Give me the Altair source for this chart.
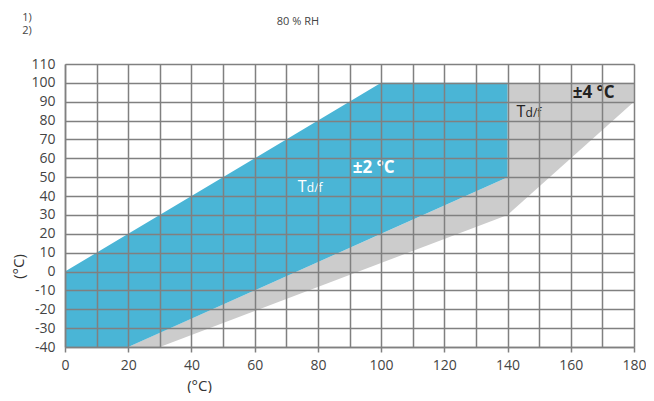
import altair as alt
import pandas as pd

FONT = "Open Sans"

# Region vertices (x = temperature, lo/hi = bounds)
blue_x = [0, 20, 100, 140]
blue_lo = [-40, -40, 20, 50]
blue_hi = [0, 20, 100, 100]

gray_x = [20, 30, 140, 140, 180]
gray_lo = [-40, -40, 30, 30, 90]
gray_hi = [-40, -32.5, 50, 100, 100]
gray_seg = ["a", "a", "a", "b", "b"]

x_ticks = list(range(0, 181, 10))
y_ticks = list(range(-40, 111, 10))

# Annotations (data coordinates)
big_text = ["±2 °C", "±4 °C"]
big_x = [91.0, 160.6]
big_y = [52.2, 92.0]
big_color = ["white", "#222222"]

t_x = [73.6, 142.8]
t_y = [42.2, 81.9]
sub_x = [76.5, 145.7]
sub_color = ["white", "#222222"]

note_text = ["1)", "2)", "80 % RH"]
note_x = [-13.5, -13.5, 67.0]
note_y = [137.8, 130.6, 135.4]

blue_df = pd.DataFrame({"x": blue_x, "lo": blue_lo, "hi": blue_hi})
gray_df = pd.DataFrame({"x": gray_x, "lo": gray_lo, "hi": gray_hi, "seg": gray_seg})

xs = alt.Scale(domain=[0, 180], nice=False, zero=False)
ys = alt.Scale(domain=[-40, 110], nice=False, zero=False)

x_axis = alt.Axis(
    values=x_ticks,
    labelExpr="datum.value % 20 === 0 ? '' + datum.value : ''",
    tickOpacity={"condition": {"test": "datum.value % 20 === 0", "value": 1}, "value": 0},
    tickSize=5,
    labelPadding=6,
    labelOverlap=False,
    labelFlush=False,
    title="(°C)",
    titleX=134,
    titleY=38,
    titleBaseline="middle",
    titleAlign="center",
    zindex=1,
)
y_axis = alt.Axis(
    values=y_ticks,
    labelExpr="'' + datum.value",
    tickSize=0,
    labelPadding=10,
    labelOverlap=False,
    labelFlush=False,
    title="(°C)",
    titleX=-47,
    titleY=202,
    titleBaseline="middle",
    titleAlign="center",
    titleAngle=270,
    zindex=1,
)


def X(field):
    return alt.X(field, scale=xs, axis=x_axis)


def Y(field):
    return alt.Y(field, scale=ys, axis=y_axis)


gray = alt.Chart(gray_df).mark_area(color="#cccccc", opacity=1).encode(
    x=X("x:Q"), y=Y("hi:Q"), y2="lo:Q", detail="seg:N",
)
blue = alt.Chart(blue_df).mark_area(color="#4ab5d6", opacity=1).encode(
    x=X("x:Q"), y=Y("hi:Q"), y2="lo:Q",
)

big_df = pd.DataFrame({"t": big_text, "x": big_x, "y": big_y, "c": big_color})
big = alt.Chart(big_df).mark_text(
    align="left", baseline="alphabetic", font=FONT, fontSize=17, fontWeight="bold"
).encode(
    x=X("x:Q"), y=Y("y:Q"), text="t:N", color=alt.Color("c:N", scale=None),
)

t_df = pd.DataFrame({"x": t_x, "y": t_y, "c": sub_color, "t": ["T", "T"]})
tmark = alt.Chart(t_df).mark_text(
    align="left", baseline="alphabetic", font=FONT, fontSize=16
).encode(
    x=X("x:Q"), y=Y("y:Q"), text="t:N", color=alt.Color("c:N", scale=None),
)
sub_df = pd.DataFrame({"x": sub_x, "y": t_y, "c": sub_color, "t": ["d/f", "d/f"]})
submark = alt.Chart(sub_df).mark_text(
    align="left", baseline="alphabetic", font=FONT, fontSize=12
).encode(
    x=X("x:Q"), y=Y("y:Q"), text="t:N", color=alt.Color("c:N", scale=None),
)

note_df = pd.DataFrame({"t": note_text, "x": note_x, "y": note_y})
notes = alt.Chart(note_df).mark_text(
    align="left", baseline="top", font=FONT, fontSize=11, color="#444444"
).encode(
    x=X("x:Q"), y=Y("y:Q"), text="t:N",
)

chart = alt.layer(gray, blue, big, tmark, submark, notes).properties(
    width=569,
    height=283,
    autosize=alt.AutoSizeParams(type="none"),
    padding={"left": 57, "top": 56, "right": 12, "bottom": 46},
).configure_view(stroke=None).configure_axis(
    domainColor="#808080",
    domainWidth=1.5,
    gridColor="#808080",
    gridWidth=1.5,
    gridOpacity=1,
    tickColor="#808080",
    tickWidth=1.5,
    labelFont=FONT,
    labelFontSize=14,
    labelColor="#444444",
    titleFont=FONT,
    titleFontSize=15,
    titleFontWeight="normal",
    titleColor="#333333",
)

chart.save("out.html", embed_options={"renderer": "svg", "actions": False})
